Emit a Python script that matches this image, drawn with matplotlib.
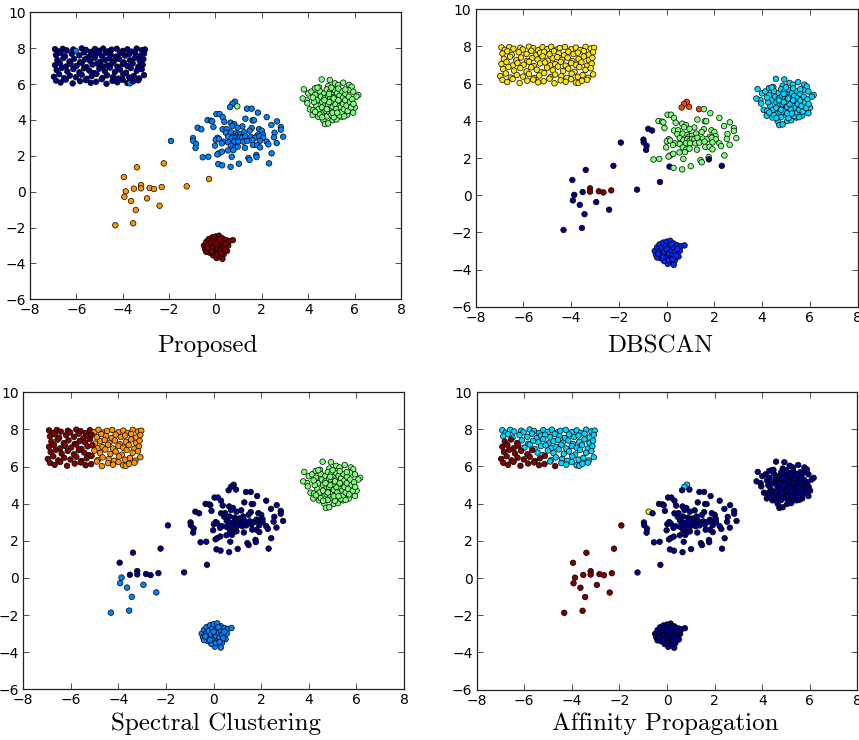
import numpy as np
import matplotlib
matplotlib.use('Agg')
import matplotlib.pyplot as plt

# ---- point set (same points in every panel) ----
# uniform rectangle, upper left, read row by row
rect_x = [-6.92, -6.78, -6.59, -6.42, -6.13, -6.03, -5.77, -5.59, -5.38, -5.20, -5.01, -4.84, -4.62, -4.48, -4.26, -4.00, -3.80, -3.62, -3.40, -3.18, -3.04,
          -6.88, -6.68, -6.49, -6.20, -5.87, -5.67, -5.48, -5.30, -5.13, -4.91, -4.72, -4.52, -4.29, -4.12, -3.90, -3.72, -3.47, -3.26, -3.08,
          -6.82, -6.56, -6.30, -6.10, -5.84, -5.63, -5.41, -5.20, -4.98, -4.77, -4.58, -4.38, -4.15, -3.95, -3.69, -3.47, -3.26, -3.11,
          -6.92, -6.71, -6.45, -6.25, -5.99, -5.77, -5.56, -5.30, -5.10, -4.87, -4.67, -4.44, -4.23, -4.00, -3.80, -3.57, -3.33, -3.14,
          -6.85, -6.63, -6.39, -6.13, -5.87, -5.67, -5.44, -5.24, -5.01, -4.77, -4.55, -4.34, -4.12, -3.86, -3.66, -3.40, -3.18,
          -6.97, -6.74, -6.53, -6.28, -6.02, -5.77, -5.56, -5.34, -5.13, -4.87, -4.67, -4.41, -4.19, -3.98, -3.72, -3.52, -3.29, -3.08,
          -6.88, -6.68, -6.45, -6.16, -5.84, -5.59, -5.38, -5.15, -4.91, -4.70, -4.44, -4.23, -4.00, -3.80, -3.69, -3.55, -3.33]
rect_y = [7.95, 7.82, 7.97, 7.88, 7.93, 7.84, 7.99, 7.91, 7.80, 7.96, 7.86, 7.98, 7.83, 7.92, 7.97, 7.85, 7.94, 7.81, 7.98, 7.89, 7.93,
          7.62, 7.74, 7.55, 7.69, 7.60, 7.77, 7.52, 7.66, 7.71, 7.58, 7.75, 7.63, 7.53, 7.72, 7.59, 7.67, 7.76, 7.56, 7.70,
          7.34, 7.45, 7.26, 7.41, 7.22, 7.38, 7.30, 7.47, 7.24, 7.36, 7.43, 7.28, 7.40, 7.21, 7.33, 7.46, 7.27, 7.39,
          7.06, 7.16, 6.98, 7.12, 7.02, 7.18, 6.95, 7.09, 7.14, 6.99, 7.05, 7.17, 6.97, 7.11, 7.01, 7.15, 6.96, 7.08,
          6.78, 6.90, 6.70, 6.84, 6.66, 6.88, 6.75, 6.62, 6.86, 6.72, 6.92, 6.68, 6.81, 6.64, 6.89, 6.74, 6.83,
          6.41, 6.55, 6.33, 6.47, 6.38, 6.52, 6.30, 6.44, 6.57, 6.35, 6.49, 6.40, 6.31, 6.54, 6.37, 6.46, 6.32, 6.50,
          6.20, 6.09, 6.25, 6.04, 6.16, 6.22, 6.07, 6.13, 6.27, 6.02, 6.18, 6.10, 6.24, 6.06, 6.04, 6.15, 6.21]

# gaussian blob, right
blob_x = [4.58, 5.15, 5.51, 5.77, 5.87, 4.86, 4.47, 3.81, 4.00, 3.93, 3.96, 3.76, 4.07, 4.19, 4.22, 4.43, 4.65, 4.72, 4.86, 5.05,
          5.22, 5.44, 5.68, 5.94, 6.01, 6.16, 6.08, 5.94, 5.73, 4.14, 4.29, 4.93, 5.29,
          4.30, 4.40, 4.35, 4.45, 4.50, 4.55, 4.60, 4.60, 4.65, 4.70, 4.70, 4.75, 4.75, 4.80, 4.80, 4.85, 4.85, 4.90, 4.90, 4.95,
          4.95, 5.00, 5.00, 5.00, 5.05, 5.05, 5.10, 5.10, 5.15, 5.15, 5.20, 5.20, 5.20, 5.25, 5.25, 5.30, 5.30, 5.35, 5.35, 5.40,
          5.40, 5.45, 5.45, 5.50, 5.50, 5.55, 5.60, 5.60, 5.65, 5.70, 5.75, 5.80, 5.85, 4.50, 4.40, 4.25, 4.30, 5.00, 5.30, 5.60,
          5.90, 5.95, 5.55, 5.10, 4.60, 4.20, 4.95, 5.05, 4.85, 5.15, 5.00, 5.10, 4.90, 5.20, 4.80, 5.30, 4.70, 5.05, 5.25, 4.90]
blob_y = [6.26, 6.04, 6.08, 5.95, 5.85, 5.89, 5.82, 5.71, 5.48, 5.11, 4.93, 5.20, 4.59, 4.28, 4.55, 4.18, 3.99, 3.77, 3.81, 3.99,
          4.03, 4.18, 4.28, 4.41, 4.70, 5.39, 5.30, 5.58, 5.67, 5.58, 5.76, 6.23, 5.95,
          5.40, 5.10, 4.80, 4.60, 5.60, 5.30, 5.00, 4.70, 4.40, 5.50, 5.20, 4.90, 4.50, 4.20, 5.70, 5.35, 5.05, 4.75, 4.45, 5.60,
          5.20, 4.95, 4.60, 4.30, 5.45, 5.10, 4.80, 4.50, 5.65, 5.30, 5.00, 4.70, 4.35, 5.50, 5.15, 4.85, 4.55, 5.35, 4.25, 5.05,
          4.70, 5.60, 4.45, 5.25, 4.90, 4.60, 5.45, 5.10, 4.80, 4.50, 5.30, 5.00, 4.70, 4.30, 5.80, 5.00, 4.45, 5.80, 5.75, 5.70,
          5.15, 4.90, 4.20, 4.15, 4.15, 5.25, 4.85, 4.75, 4.90, 4.90, 5.05, 5.20, 5.00, 4.60, 4.60, 5.10, 5.10, 4.40, 4.40, 5.45]

# wide cloud, centre
cloud_x = [0.84, 0.73, 0.63, 0.94, 1.36, 1.56, 0.04, 0.18, 0.31, 1.83, 2.21, -0.34, -0.19, -0.14, 0.38, 1.29, 1.60, 1.66, 2.65, 0.65,
           0.81, 0.73, 1.16, -0.77, -0.61, -0.09, 0.31, 0.48, 0.96, 1.56, 1.88, 2.00, 2.41, 2.82, 2.82, 0.45, 0.67, 0.88, 0.96, 1.06,
           1.24, 1.47, 1.80, 2.05, 2.55, -0.97, -0.96, -0.84, -0.86, 0.09, 0.01, 0.15, 0.55, 0.71, 0.87, 0.96, 1.06, 1.16, 1.29, 1.52,
           1.70, 1.89, 2.06, 2.52, 2.92, 0.35, 0.55, 0.81, 0.98, 1.20, 1.37, 1.59, 1.92, 2.21, -0.02, 0.27, 0.68, 0.83, 0.96, 1.27,
           1.62, 1.80, 2.28, 2.64, 0.54, 0.77, 1.92, 0.15, 0.08, 0.28, 0.70, -0.55, -0.31, 1.42, 1.47, 1.76, 1.77, 2.42, 0.12, 0.29,
           0.65, 1.01, 2.31]
cloud_y = [5.02, 4.91, 4.72, 4.76, 4.63, 4.63, 4.33, 4.33, 4.16, 4.41, 4.16, 3.99, 3.96, 3.92, 3.90, 4.07, 3.98, 3.98, 3.92, 3.85,
           3.77, 3.66, 3.64, 3.57, 3.48, 3.61, 3.48, 3.49, 3.57, 3.55, 3.49, 3.40, 3.72, 3.61, 3.46, 3.29, 3.31, 3.25, 3.16, 3.20,
           3.31, 3.40, 3.14, 3.18, 3.29, 2.99, 2.84, 2.66, 2.44, 3.01, 2.90, 2.94, 3.07, 2.97, 3.01, 2.92, 3.03, 3.01, 3.09, 3.05,
           3.01, 3.09, 3.01, 3.03, 3.07, 2.79, 2.75, 2.79, 2.79, 2.79, 2.83, 2.88, 2.84, 2.79, 2.57, 2.70, 2.57, 2.47, 2.51, 2.45,
           2.60, 2.60, 2.64, 2.71, 2.30, 2.32, 2.47, 2.14, 2.08, 2.23, 1.95, 1.92, 1.95, 1.88, 1.77, 2.05, 1.93, 2.14, 1.54, 1.47,
           1.39, 1.56, 1.58]

# sparse points, lower left
sparse_x = [-3.39, -2.23, -3.95, -3.21, -3.21, -3.52, -2.84, -2.65, -2.32, -1.24, -0.28, -3.87, -3.93, -3.64, -2.95, -2.41, -3.44, -4.32, -3.55, -1.92]
sparse_y = [1.36, 1.58, 0.82, 0.37, 0.19, 0.17, 0.21, 0.15, 0.26, 0.30, 0.71, 0.02, -0.28, -0.52, -0.37, -0.78, -1.02, -1.87, -1.76, 2.83]

# small tight cluster, bottom
small_x = [-0.50, -0.45, -0.40, -0.30, -0.15, 0.00, 0.15, 0.30, 0.45, 0.60, 0.75, 0.55, 0.50, 0.35, 0.20, 0.05, -0.10, -0.25, -0.40, 0.30,
           -0.30, -0.20, -0.20, -0.10, -0.05, 0.00, 0.05, 0.10, 0.10, 0.15, 0.20, 0.25, 0.30, 0.35, 0.40, 0.45, -0.15, 0.00, 0.20, -0.35,
           0.10, 0.25]
small_y = [-3.00, -3.20, -2.80, -2.65, -2.55, -2.50, -2.45, -2.60, -2.70, -2.75, -2.70, -3.00, -3.30, -3.50, -3.60, -3.70, -3.55, -3.40, -3.35, -3.75,
           -3.00, -2.85, -3.20, -3.05, -2.75, -3.30, -3.00, -2.80, -3.15, -3.40, -2.95, -3.20, -2.85, -3.05, -3.25, -2.90, -3.35, -2.90, -2.65, -3.15,
           -3.50, -3.45]

# ---- cluster labels per method, one digit per point, same order as above ----
titles = ['Proposed', 'DBSCAN', 'Spectral Clustering', 'Affinity Propagation']

rect_lab = {
    'Proposed': ('000001000000000000000'
                 '0000000000000000000'
                 '000000000000000000'
                 '000000000000000000'
                 '00000000000000000'
                 '000000000000000000'
                 '00000000000000100'),
    'DBSCAN': ('444444444444444444444'
               '4444444444444444444'
               '444444444444444444'
               '444444444444444444'
               '44444444444444444'
               '444444444444444444'
               '44444444444444444'),
    'Spectral Clustering': ('444444444433333333333'
                            '4444444443333333333'
                            '444444443333333333'
                            '444444444333333333'
                            '44444444333333333'
                            '444444444333333333'
                            '44444444333333333'),
    'Affinity Propagation': ('111111111111111111111'
                             '1111111111111111111'
                             '333111111111111111'
                             '333311111111111111'
                             '33333311111111111'
                             '333333333111111111'
                             '33333333131111111'),
}
blob_lab = {'Proposed': '2', 'DBSCAN': '2', 'Spectral Clustering': '2', 'Affinity Propagation': '0'}
cloud_lab = {
    'Proposed': ('1112111111111111111111111111111111111111111111111111'
                 '111111111111111111111111111111111111111111111111111'),
    'DBSCAN': ('5555533333333333333333300333333333333333333330000333'
               '333333333333333333333333333333333333333333330303330'),
    'Spectral Clustering': ('0000000000000000000000000000000000000000000000000000'
                            '000000000000000000000000000000000000000000000000000'),
    'Affinity Propagation': ('1100000000000000000000020000000000000000000000000000'
                             '000000000000000000000000000000000000000000000000000'),
}
sparse_lab = {
    'Proposed': '33333333333333333331',
    'DBSCAN': '00066066600000000000',
    'Spectral Clustering': '00000000000111111110',
    'Affinity Propagation': '33333333300333333333',
}
small_lab = {'Proposed': '4', 'DBSCAN': '1', 'Spectral Clustering': '1', 'Affinity Propagation': '0'}

xs = np.array(rect_x + blob_x + cloud_x + sparse_x + small_x)
ys = np.array(rect_y + blob_y + cloud_y + sparse_y + small_y)


def labels_for(name):
    s = (rect_lab[name] + blob_lab[name] * len(blob_x) + cloud_lab[name]
         + sparse_lab[name] + small_lab[name] * len(small_x))
    return np.array([int(ch) for ch in s])


# axes boxes in figure fractions (panels were pasted separately, not a clean grid)
boxes = [[0.0349, 0.5955, 0.4319, 0.3878],
         [0.5538, 0.5855, 0.4445, 0.4019],
         [0.0271, 0.0685, 0.4432, 0.4014],
         [0.5549, 0.0681, 0.4433, 0.4020]]
captions_xy = [(0.241, 0.524), (0.769, 0.524), (0.252, 0.013), (0.774, 0.013)]

fig = plt.figure(figsize=(8.59, 7.40), dpi=100)
fig.patch.set_facecolor('white')

for name, box, cxy in zip(titles, boxes, captions_xy):
    ax = fig.add_axes(box)
    lab = labels_for(name)
    ax.scatter(xs, ys, c=lab, cmap='jet', vmin=0, vmax=lab.max(), s=16,
               edgecolors='black', linewidths=0.5, zorder=3)
    ax.set_xlim(-8, 8)
    ax.set_ylim(-6, 10)
    ax.set_xticks(range(-8, 9, 2))
    ax.set_yticks(range(-6, 11, 2))
    ax.tick_params(direction='in', top=True, right=True, length=4, width=0.6,
                   labelsize=10, pad=3, color='#333333')
    for sp in ax.spines.values():
        sp.set_linewidth(0.9)
        sp.set_color('#222222')
    fig.text(cxy[0], cxy[1], name, ha='center', va='baseline',
             fontsize=18, family='cmr10')

fig.savefig('out.png', dpi=100, facecolor='white')
